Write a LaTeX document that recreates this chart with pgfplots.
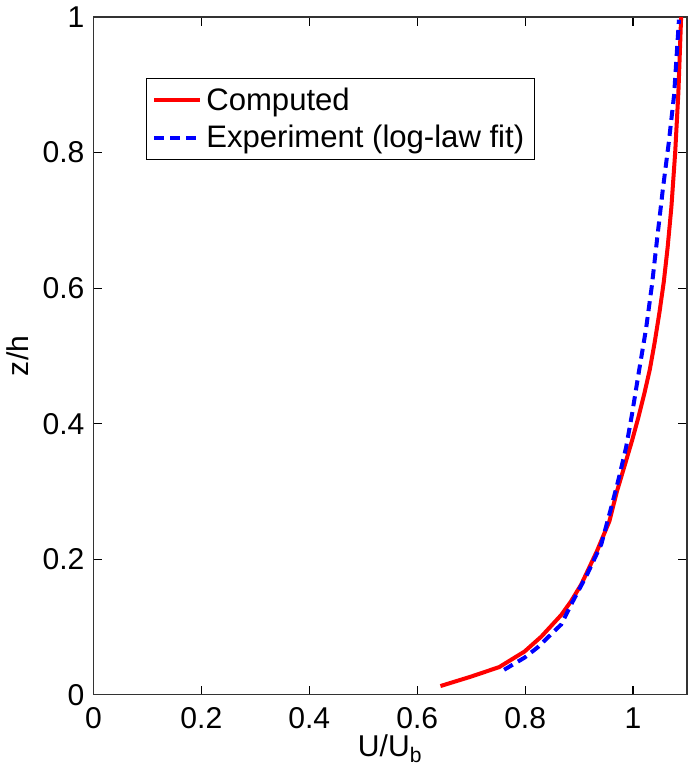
\documentclass[border=0pt]{standalone}
\usepackage{fontspec}
\setmainfont{Liberation Sans}
\usepackage{pgfplots}
\pgfplotsset{compat=1.18}
\begin{document}
\begin{tikzpicture}
\begin{axis}[
  scale only axis,
  width=296pt, height=338pt,
  xmin=0, xmax=1.1, ymin=0, ymax=1,
  xtick={0,0.2,0.4,0.6,0.8,1},
  ytick={0,0.2,0.4,0.6,0.8,1},
  tick align=inside,
  major tick length=4.5pt,
  tick style={black, line width=0.6pt},
  axis line style={line width=0.6pt, black!80},
  /pgf/number format/assume math mode=true,
  ticklabel style={font=\fontsize{15}{17}\selectfont},
  xticklabel style={yshift=-3pt},
  yticklabel style={xshift=-1pt},
  label style={font=\fontsize{15}{17}\selectfont},
  xlabel={U/U$_{\mathrm{b}}$},
  ylabel={z/h},
  xlabel style={yshift=4pt},
  ylabel style={yshift=0pt},
  legend style={at={(0.088,0.91)}, anchor=north west, draw=black, line width=0.5pt,
    font=\fontsize{15.5}{17}\selectfont, inner xsep=3pt, inner ysep=2.5pt,
    row sep=2pt},
  legend cell align=left,
  legend image code/.code={\draw[#1] (0pt,0pt) -- (23pt,0pt);},
]
\addplot[red, line width=2pt] coordinates {
(0.643,0.013) (0.700,0.027) (0.752,0.041) (0.799,0.064) (0.830,0.086) (0.867,0.118)
(0.885,0.138) (0.904,0.163) (0.933,0.212) (0.956,0.256) (0.970,0.300)
(0.985,0.340) (0.998,0.375) (1.010,0.410) (1.021,0.445) (1.031,0.480)
(1.040,0.520) (1.049,0.565) (1.057,0.610) (1.064,0.660) (1.071,0.720)
(1.078,0.800) (1.084,0.890) (1.089,1.0)
};
\addlegendentry{Computed}
\addplot[blue, line width=2pt, dash pattern=on 5pt off 3pt] coordinates {
(0.761,0.037) (0.799,0.055) (0.823,0.070) (0.867,0.104) (0.885,0.133)
(0.915,0.178) (0.941,0.222) (0.961,0.281) (0.974,0.321) (0.987,0.365)
(0.998,0.414) (1.011,0.478) (1.024,0.540) (1.035,0.605) (1.045,0.676)
(1.055,0.745) (1.066,0.814) (1.076,0.885) (1.085,0.996)
};
\addlegendentry{Experiment (log-law fit)}
\end{axis}
\end{tikzpicture}
\end{document}
